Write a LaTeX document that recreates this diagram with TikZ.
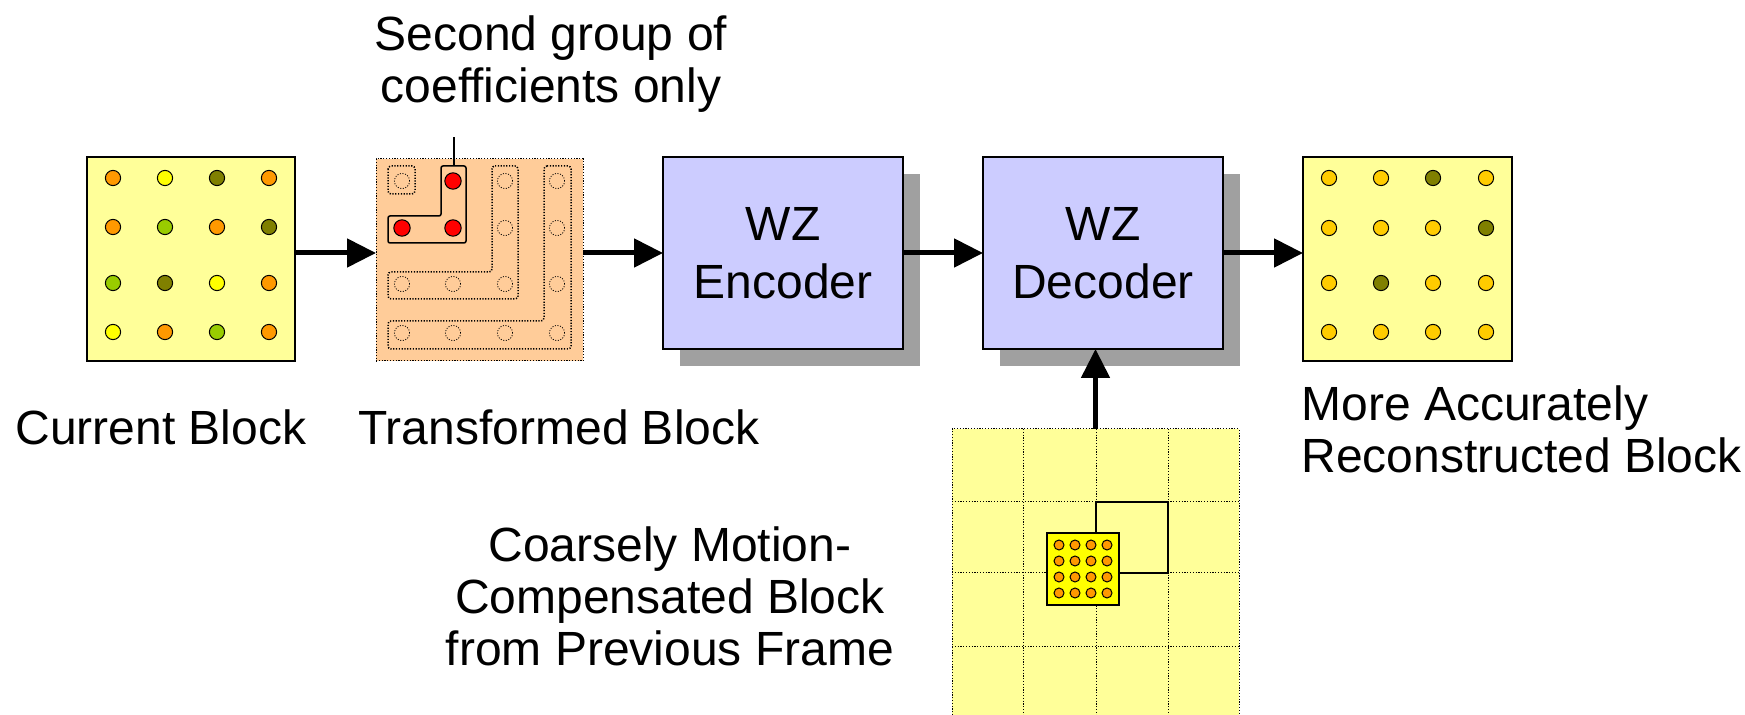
\documentclass[tikz,border=0pt]{standalone}
\usepackage{fontspec}
\setmainfont{Liberation Sans}
\usetikzlibrary{arrows.meta,shadows}
\definecolor{lyel}{HTML}{FFFF99}
\definecolor{peach}{HTML}{FFCC99}
\definecolor{lav}{HTML}{CCCCFF}
\definecolor{shgray}{HTML}{A0A0A0}
\definecolor{cO}{HTML}{FF9900}
\definecolor{cY}{HTML}{FFFF00}
\definecolor{cL}{HTML}{808000}
\definecolor{cG}{HTML}{99CC00}
\definecolor{cD}{HTML}{FFCC00}
\definecolor{cR}{HTML}{FF0000}
\begin{document}
\begin{tikzpicture}[x=0.5pt,y=-0.5pt,
  blk/.style={draw=black, line width=0.75pt, inner sep=0pt, outer sep=0pt, anchor=north west},
  coder/.style={blk, fill=lav, align=center, font=\fontsize{24}{29}\selectfont,
     drop shadow={shadow xshift=8.5pt, shadow yshift=-8.5pt, fill=shgray, opacity=1}},
  arr/.style={line width=2.5pt, -{Triangle[length=14.5pt,width=14pt]}},
  lbl/.style={inner sep=0pt, font=\fontsize{24}{26}\selectfont},
  pdot/.style={draw=black, line width=0.5pt},
  fine dots/.style={dash pattern=on 0.6pt off 0.8pt},
  grp/.style={draw=black, line width=0.75pt, fine dots, rounded corners=1.5pt},
  ecirc/.style={draw=black, line width=0.4pt, dash pattern=on 0.5pt off 0.8pt},
  gridl/.style={draw=black, line width=0.5pt, fine dots}
]
\useasboundingbox (0,0) rectangle (1745,715);
\clip (0,0) rectangle (1745,715);

% ---------- current block ----------
\node[blk, fill=lyel, minimum width=104pt, minimum height=102pt] (cur) at (87,157) {};
\foreach \x/\y/\c in {113/178/cO,165/178/cY,217/178/cL,269/178/cO,
                      113/227/cO,165/227/cG,217/227/cO,269/227/cL,
                      113/283/cG,165/283/cL,217/283/cY,269/283/cO,
                      113/332/cY,165/332/cO,217/332/cG,269/332/cO}
  \filldraw[pdot, fill=\c] (\x,\y) circle[radius=3.8pt];

% ---------- transformed block ----------
\node[blk, fill=peach, line width=0.5pt, fine dots, minimum width=103.5pt, minimum height=101pt] (tr) at (376,159) {};
\foreach \x/\y in {402/181,505/181,557/181,
                   505/228,557/228,
                   402/284,453/284,505/284,557/284,
                   402/333,453/333,505/333,557/333}
  \draw[ecirc] (\x,\y) circle[radius=3.8pt];
\draw[grp] (388,166) rectangle (415,194);
\draw[grp] (492,166) -- (518,166) -- (518,299) -- (388,299) -- (388,272) -- (492,272) -- cycle;
\draw[grp] (544,166) -- (571,166) -- (571,349) -- (388,349) -- (388,321) -- (544,321) -- cycle;
\draw[draw=black, line width=0.75pt, rounded corners=1pt] (441,166) -- (466,166) -- (466,243) -- (388,243) -- (388,216) -- (441,216) -- cycle;
\foreach \x/\y in {453/181,402/228,453/228}
  \filldraw[pdot, fill=cR] (\x,\y) circle[radius=4.1pt];
\coordinate (lt) at (454,166);
\coordinate (lb) at (454,137);
\draw[line width=0.6pt] (lt) -- (lb);
\node[lbl, align=center, anchor=base] (sg) at (551,103) {Second group of\\coefficients only};

% ---------- coder boxes ----------
\node[coder, minimum width=120pt, minimum height=96pt] (enc) at (663,157) {WZ\\Encoder};
\node[coder, minimum width=120pt, minimum height=96pt] (dec) at (983,157) {WZ\\Decoder};

% ---------- output block ----------
\node[blk, fill=lyel, minimum width=104.5pt, minimum height=102pt] (out) at (1303,157) {};
\foreach \x/\y/\c in {1329/178/cD,1381/178/cD,1433/178/cL,1486/178/cD,
                      1329/228/cD,1381/228/cD,1433/228/cD,1486/228/cL,
                      1329/283/cD,1381/283/cL,1433/283/cD,1486/283/cD,
                      1329/332/cD,1381/332/cD,1433/332/cD,1486/332/cD}
  \filldraw[pdot, fill=\c] (\x,\y) circle[radius=3.8pt];

% ---------- previous frame grid ----------
\node[blk, draw=none, fill=lyel, minimum width=143.5pt, minimum height=200pt] (grid) at (952,429) {};
\foreach \x in {1023,1096,1168}
  \draw[gridl] (\x,429) -- (\x,830);
\foreach \y in {502,573,646}
  \draw[gridl] (952,\y) -- (1239,\y);
\draw[gridl] (952,830) -- (952,429) -- (1239,429) -- (1239,830);
\draw[line width=0.75pt] (1096,502) rectangle (1168,573);
\node[blk, fill=cY, minimum width=36pt, minimum height=36pt] (mc) at (1047,533) {};
\foreach \x in {1059,1075,1091,1107}
  \foreach \y in {545,561,577,593}
    \filldraw[pdot, fill=cO] (\x,\y) circle[radius=2.5pt];

% ---------- labels ----------
\node[lbl, anchor=base west] (curl) at (15,445) {Current Block};
\node[lbl, anchor=base west] (trl) at (358,445) {Transformed Block};
\node[lbl, anchor=base west, align=left] (outl) at (1301,473) {More Accurately\\Reconstructed Block};
\node[lbl, align=center, anchor=base] (cml) at (670,665) {Coarsely Motion-\\Compensated Block\\from Previous Frame};

% ---------- connectors ----------
\coordinate (ay) at (0,253);
\draw[arr] (cur.east |- ay) -- (tr.west |- ay);
\draw[arr] (tr.east |- ay) -- (enc.west |- ay);
\draw[arr] (enc.east |- ay) -- (dec.west |- ay);
\draw[arr] (dec.east |- ay) -- (out.west |- ay);
\draw[arr] (grid.north) -- (grid.north |- dec.south);
\end{tikzpicture}
\end{document}
